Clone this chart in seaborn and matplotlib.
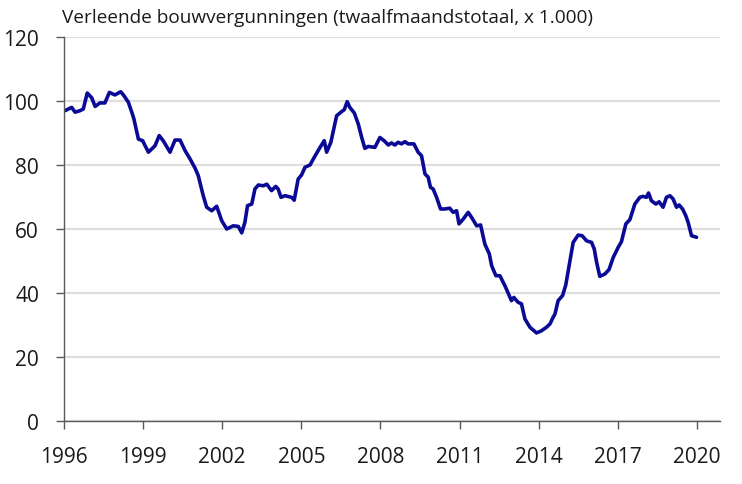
import pandas as pd
import matplotlib.pyplot as plt
import seaborn as sns

# decimal year and permits (x 1.000)
years = [1996.04, 1996.29, 1996.42, 1996.61, 1996.73, 1996.88, 1997.05, 1997.18, 1997.36, 1997.55,
         1997.72, 1997.93, 1998.15, 1998.27, 1998.44, 1998.57, 1998.65, 1998.82, 1998.98, 1999.20,
         1999.45, 1999.61, 1999.76, 2000.02, 2000.21, 2000.40, 2000.59, 2000.78, 2000.97, 2001.09,
         2001.28, 2001.41, 2001.60, 2001.79, 2001.98, 2002.17, 2002.42, 2002.61, 2002.74, 2002.86,
         2002.96, 2003.12, 2003.24, 2003.37, 2003.56, 2003.69, 2003.87, 2004.03, 2004.12, 2004.23,
         2004.38, 2004.63, 2004.73, 2004.88, 2005.01, 2005.14, 2005.33, 2005.49, 2005.71, 2005.87,
         2005.96, 2006.12, 2006.34, 2006.53, 2006.63, 2006.74, 2006.84, 2007.01, 2007.16, 2007.29,
         2007.41, 2007.54, 2007.79, 2007.98, 2008.14, 2008.30, 2008.42, 2008.55, 2008.67, 2008.80,
         2008.93, 2009.05, 2009.27, 2009.43, 2009.56, 2009.69, 2009.81, 2009.90, 2010.00, 2010.13,
         2010.28, 2010.44, 2010.63, 2010.76, 2010.89, 2010.98, 2011.14, 2011.33, 2011.46, 2011.65,
         2011.80, 2011.96, 2012.13, 2012.22, 2012.38, 2012.53, 2012.72, 2012.97, 2013.06, 2013.22,
         2013.35, 2013.48, 2013.67, 2013.92, 2014.11, 2014.30, 2014.43, 2014.55, 2014.62, 2014.74,
         2014.91, 2015.03, 2015.18, 2015.31, 2015.50, 2015.65, 2015.82, 2016.01, 2016.11, 2016.20,
         2016.32, 2016.51, 2016.67, 2016.83, 2017.02, 2017.14, 2017.31, 2017.46, 2017.65, 2017.84,
         2017.96, 2018.09, 2018.17, 2018.28, 2018.45, 2018.57, 2018.72, 2018.85, 2018.98, 2019.10,
         2019.23, 2019.33, 2019.46, 2019.58, 2019.67, 2019.80, 2019.99]
permits = [97.0, 98.0, 96.5, 97.0, 97.5, 102.5, 101.0, 98.3, 99.4, 99.4,
           102.7, 101.9, 102.9, 101.7, 99.6, 96.5, 94.4, 88.1, 87.6, 84.0,
           86.0, 89.2, 87.6, 84.0, 87.8, 87.8, 84.5, 81.9, 79.0, 76.7,
           70.4, 66.8, 65.7, 67.1, 62.6, 60.0, 61.0, 60.8, 58.8, 62.1,
           67.3, 67.8, 72.5, 73.75, 73.5, 74.0, 72.0, 73.3, 72.5, 69.9,
           70.4, 69.9, 69.0, 75.6, 76.9, 79.3, 80.0, 82.4, 85.5, 87.6,
           84.0, 87.1, 95.4, 96.7, 97.3, 99.8, 98.0, 96.25, 92.8, 88.6,
           85.2, 85.8, 85.5, 88.6, 87.6, 86.25, 86.9, 86.25, 87.1, 86.6,
           87.3, 86.6, 86.6, 84.0, 82.9, 77.2, 76.2, 73.0, 72.5, 69.9,
           66.25, 66.25, 66.5, 65.2, 65.7, 61.6, 63.1, 65.2, 63.6, 61.0,
           61.25, 55.3, 52.2, 48.5, 45.4, 45.4, 42.3, 37.6, 38.6, 37.1,
           36.6, 31.9, 29.3, 27.5, 28.2, 29.3, 30.3, 32.4, 33.4, 37.6,
           39.2, 42.5, 49.6, 55.8, 58.1, 57.9, 56.3, 55.8, 53.75, 49.6,
           45.2, 45.9, 47.3, 51.1, 54.3, 56.0, 61.6, 62.9, 67.8, 69.9,
           70.2, 69.9, 71.25, 68.8, 67.8, 68.5, 66.8, 69.9, 70.4, 69.4,
           66.8, 67.5, 66.25, 64.2, 62.1, 57.9, 57.4]
year_ticks = [1996, 1999, 2002, 2005, 2008, 2011, 2014, 2017, 2020]
value_ticks = [0, 20, 40, 60, 80, 100, 120]
title = 'Verleende bouwvergunningen (twaalfmaandstotaal, x 1.000)'

df = pd.DataFrame({'year': years, 'permits': permits})

sns.set_theme(style='white')
plt.rcParams['font.family'] = ['Open Sans', 'DejaVu Sans']

fig = plt.figure(figsize=(7.42, 4.85), dpi=100)
ax = fig.add_axes([0.0863, 0.130, 0.8837, 0.7916])

sns.lineplot(data=df, x='year', y='permits', color='#0a0a96', linewidth=2.6, ax=ax)
ax.lines[0].set_solid_joinstyle('round')

ax.set_xlim(1996, 2020.87)
ax.set_ylim(0, 120)
ax.set_xticks(year_ticks)
ax.set_yticks(value_ticks)
ax.set_xlabel('')
ax.set_ylabel('')
ax.yaxis.grid(True, color='#dedede', linewidth=1.6)
ax.set_axisbelow(True)

for side in ['top', 'right']:
    ax.spines[side].set_visible(False)
for side in ['left', 'bottom']:
    ax.spines[side].set_color('#595959')
    ax.spines[side].set_linewidth(1.0)

ax.tick_params(axis='y', left=True, length=6, width=1, color='#595959',
               pad=12, labelsize=15, labelcolor='#1a1a1a')
ax.tick_params(axis='x', bottom=True, length=6, width=1, color='#595959',
               pad=12, labelsize=15, labelcolor='#1a1a1a')

fig.text(0.083, 0.982, title, ha='left', va='top', fontsize=13.7, color='#1a1a1a')

plt.savefig('out.png', dpi=100)
